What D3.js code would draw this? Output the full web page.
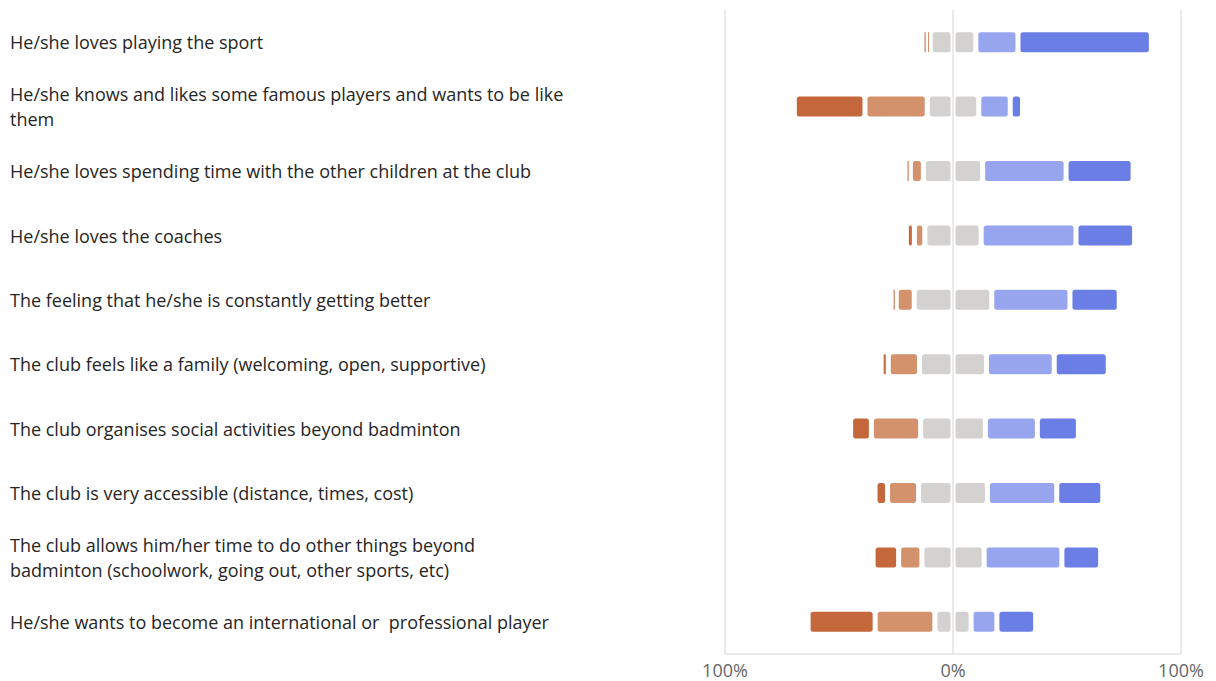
<!DOCTYPE html>
<html>
<head>
<meta charset="utf-8">
<script src="https://cdn.jsdelivr.net/npm/d3@7"></script>
<style>
  html, body { margin: 0; padding: 0; background: #fff; }
  svg { display: block; }
</style>
</head>
<body>
<svg id="chart" width="1216" height="681"></svg>
<script>
// ---- data ----
const categories = [
  "He/she loves playing the sport",
  "He/she knows and likes some famous players and wants to be like them",
  "He/she loves spending time with the other children at the club",
  "He/she loves the coaches",
  "The feeling that he/she is constantly getting better",
  "The club feels like a family (welcoming, open, supportive)",
  "The club organises social activities beyond badminton",
  "The club is very accessible (distance, times, cost)",
  "The club allows him/her time to do other things beyond badminton (schoolwork, going out, other sports, etc)",
  "He/she wants to become an international or  professional player"
];
const stronglyDisagree = [1.5, 31, 2, 3.5, 1.8, 3.1, 9.1, 5.5, 11.2, 29.4];
const disagree         = [1.5, 27.3, 5.7, 4.6, 7.9, 13.7, 21.6, 13.6, 10.2, 26.2];
const neutral          = [20, 22.6, 26, 24.7, 34, 29.4, 28.4, 30.2, 27.3, 15.9];
const agree            = [18.5, 13.8, 36.6, 41.6, 34.3, 29.7, 22.8, 30.4, 34.1, 11.3];
const stronglyAgree    = [58.5, 5.4, 29.4, 25.7, 21.6, 23.7, 18, 20.2, 17, 17];
const tickValues = [-100, 0, 100];
const tickLabels = ["100%", "0%", "100%"];
const colors = ["#C4673A", "#D4926C", "#D3D2D0", "#D3D2D0", "#97A5EF", "#6A7EE6"];

// ---- layout ----
const svg = d3.select("#chart");
const x = d3.scaleLinear().domain([-100, 100]).range([725, 1181]);
const y = d3.scaleBand().domain(categories).range([10, 654]).paddingInner(0.69).paddingOuter(0.345);
const gap = 5;

// gridlines
svg.append("g").selectAll("line").data(tickValues).join("line")
  .attr("x1", d => x(d)).attr("x2", d => x(d))
  .attr("y1", 10).attr("y2", 654)
  .attr("stroke", "#e3e3e3").attr("stroke-width", 1.5);
svg.append("line")
  .attr("x1", x(-100)).attr("x2", x(100))
  .attr("y1", 654).attr("y2", 654)
  .attr("stroke", "#e3e3e3").attr("stroke-width", 1.5);

// segments
const rows = categories.map((c, i) => {
  const vals = [stronglyDisagree[i], disagree[i], neutral[i] / 2, neutral[i] / 2, agree[i], stronglyAgree[i]];
  const neg = stronglyDisagree[i] + disagree[i] + neutral[i] / 2;
  let start = -neg;
  return vals.map((v, k) => {
    const s = { cat: c, k, x0: start, x1: start + v };
    start += v;
    return s;
  });
}).flat();

svg.append("g").selectAll("rect").data(rows).join("rect")
  .attr("x", d => {
    const w = x(d.x1) - x(d.x0) - gap;
    return w >= 1 ? x(d.x0) + gap / 2 : (x(d.x0) + x(d.x1)) / 2 - 0.5;
  })
  .attr("width", d => Math.max(1, x(d.x1) - x(d.x0) - gap))
  .attr("y", d => y(d.cat))
  .attr("height", y.bandwidth())
  .attr("rx", d => Math.min(2.5, Math.max(0, (x(d.x1) - x(d.x0) - gap) / 2)))
  .attr("fill", d => colors[d.k]);

// axis labels
svg.append("g").selectAll("text").data(tickValues).join("text")
  .attr("x", d => x(d)).attr("y", 677)
  .attr("text-anchor", "middle")
  .attr("font-family", "'Open Sans', sans-serif")
  .attr("font-size", 18)
  .attr("fill", "#666")
  .text((d, i) => tickLabels[i]);

// category labels with wrapping
const labelG = svg.append("g");
const maxW = 557;
categories.forEach(c => {
  const t = labelG.append("text")
    .attr("font-family", "'Open Sans', sans-serif")
    .attr("font-size", 18)
    .attr("fill", "#262626")
    .style("white-space", "pre");
  const words = c.split(" ");
  const lines = [];
  let line = [];
  const probe = t.append("tspan");
  words.forEach(w => {
    line.push(w);
    probe.text(line.join(" "));
    if (probe.node().getComputedTextLength() > maxW && line.length > 1) {
      line.pop();
      lines.push(line.join(" "));
      line = [w];
    }
  });
  lines.push(line.join(" "));
  probe.remove();
  const cy = y(c) + y.bandwidth() / 2;
  const lh = 25;
  lines.forEach((ln, j) => {
    t.append("tspan")
      .attr("x", 10)
      .attr("y", cy + (j - (lines.length - 1) / 2) * lh)
      .attr("dy", "0.4em")
      .text(ln);
  });
});
</script>
</body>
</html>
